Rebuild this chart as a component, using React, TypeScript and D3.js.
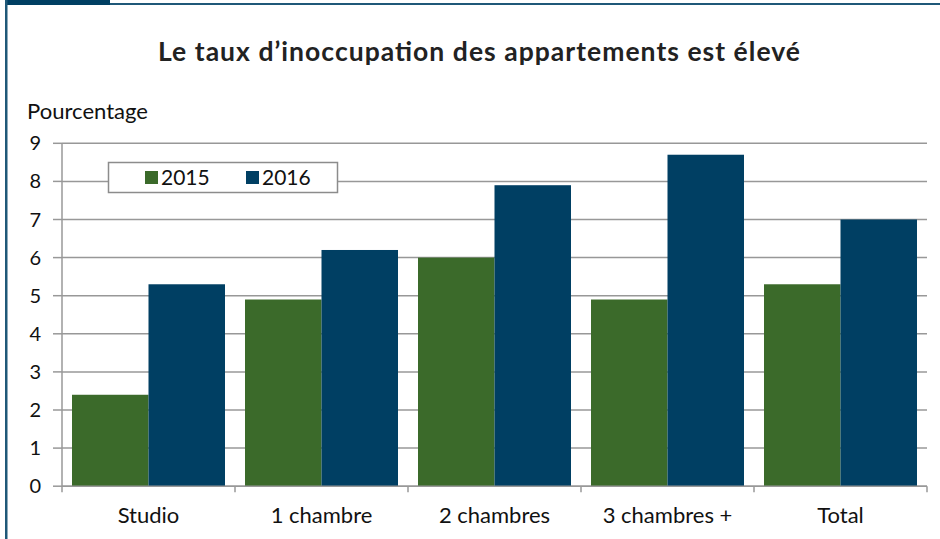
import React from "react";
import * as d3 from "d3";

const categories = ["Studio", "1 chambre", "2 chambres", "3 chambres +", "Total"];
const series = ["2015", "2016"];
const values2015 = [2.4, 4.9, 6.0, 4.9, 5.3];
const values2016 = [5.3, 6.2, 7.9, 8.7, 7.0];
const yTicks = [0, 1, 2, 3, 4, 5, 6, 7, 8, 9];
const colors = ["#3b6a2a", "#003f63"];

const W = 940;
const H = 539;
const FONT = "Lato, 'Open Sans', sans-serif";

export default function App() {
  const left = 62;
  const right = 927;
  const top = 143.3;
  const bottom = 486.2;

  const x0 = d3.scaleBand<string>().domain(categories).range([left, right]).padding(0);
  const bw = x0.bandwidth();
  const x1 = d3.scaleBand<string>().domain(series).range([10, bw - 10]).padding(0);
  const y = d3.scaleLinear().domain([0, 9]).range([bottom, top]);

  const data = [values2015, values2016];
  const grid = "#989898";

  return (
    <svg width={W} height={H} style={{ position: "absolute", left: 0, top: 0, background: "#fff" }}>
      <rect x={0} y={0} width={W} height={H} fill="#fff" />
      {/* frame */}
      <rect x={5} y={0} width={105} height={5} fill="#003f63" />
      <rect x={110} y={3} width={830} height={2} fill="#1f5878" />
      <rect x={5} y={0} width={2.5} height={H} fill="#1f5878" />

      <text x={158} y={61} textLength={642} lengthAdjust="spacing" fontFamily={FONT} fontWeight={700} fontSize={26.5} fill="#222">
        Le taux d’inoccupation des appartements est élevé
      </text>
      <text x={27} y={119} textLength={121} lengthAdjust="spacingAndGlyphs" fontFamily={FONT} fontSize={20.5} fill="#111">Pourcentage</text>

      {/* grid */}
      {yTicks.map((t) => (
        <g key={t}>
          <line x1={left} x2={right} y1={y(t)} y2={y(t)} stroke={grid} strokeWidth={1.5} />
          <line x1={53} x2={left} y1={y(t)} y2={y(t)} stroke={grid} strokeWidth={1.5} />
          <text x={41} y={y(t) + 7} textAnchor="end" fontFamily={FONT} fontSize={20} fill="#111">
            {t}
          </text>
        </g>
      ))}
      <line x1={left} x2={left} y1={top} y2={bottom + 6} stroke={grid} strokeWidth={1.5} />

      {/* bars */}
      {categories.map((c, i) => (
        <g key={c}>
          {series.map((s, j) => (
            <rect
              key={s}
              x={(x0(c) as number) + (x1(s) as number)}
              y={y(data[j][i])}
              width={x1.bandwidth()}
              height={bottom - y(data[j][i])}
              fill={colors[j]}
            />
          ))}
        </g>
      ))}

      {/* x axis */}
      <line x1={left} x2={right} y1={bottom} y2={bottom} stroke={grid} strokeWidth={1.5} />
      {categories.map((c) => (
        <line key={c + "t"} x1={(x0(c) as number) + bw} x2={(x0(c) as number) + bw} y1={bottom} y2={bottom + 6} stroke={grid} strokeWidth={1.5} />
      ))}
      {categories.map((c) => (
        <text key={c + "l"} x={(x0(c) as number) + bw / 2} y={523} textAnchor="middle" fontFamily={FONT} fontSize={22} fill="#111">
          {c}
        </text>
      ))}

      {/* legend */}
      <rect x={108.5} y={162.5} width={229} height={30} fill="#fff" stroke="#8c8c8c" strokeWidth={1.5} />
      {series.map((s, j) => (
        <g key={s}>
          <rect x={145 + j * 101} y={171} width={13} height={13} fill={colors[j]} />
          <text x={161 + j * 101} y={185} fontFamily={FONT} fontSize={21} fill="#111">{s}</text>
        </g>
      ))}
    </svg>
  );
}
